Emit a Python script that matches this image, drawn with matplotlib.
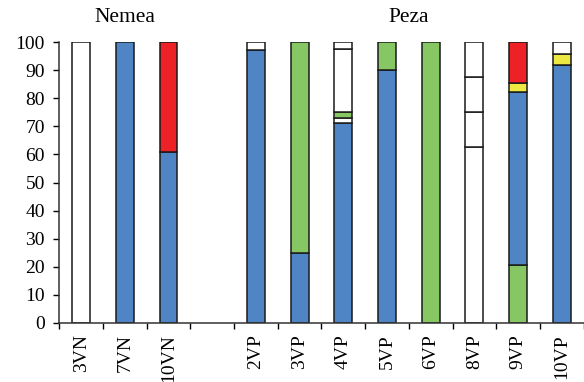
import matplotlib
matplotlib.use("Agg")
import matplotlib.pyplot as plt
import numpy as np

plt.rcParams['font.family'] = ['Liberation Serif', 'DejaVu Serif']
plt.rcParams['font.size'] = 14

# sample names, one slot left empty between the two sites
labels = ['3VN', '7VN', '10VN', '', '2VP', '3VP', '4VP', '5VP', '6VP', '8VP', '9VP', '10VP']

colors = {
    'b': '#4F85C5',
    'g': '#86C663',
    'y': '#EEE842',
    'r': '#EE2226',
    'w': '#FFFFFF',
}

# stacked segments for each sample, bottom to top: (colour key, percent)
stacks = [
    [('w', 100)],
    [('b', 100)],
    [('b', 61), ('r', 39)],
    [],
    [('b', 97), ('w', 3)],
    [('b', 25), ('g', 75)],
    [('b', 71.3), ('w', 1.8), ('g', 2.1), ('w', 22.4), ('w', 2.4)],
    [('b', 90), ('g', 10)],
    [('g', 100)],
    [('w', 62.5), ('w', 12.5), ('w', 12.5), ('w', 12.5)],
    [('g', 20.6), ('b', 61.7), ('y', 3.0), ('r', 14.7)],
    [('b', 91.7), ('y', 4.1), ('w', 4.2)],
]

sites = ['Nemea', 'Peza']
site_centres = [1.5, 8.0]

fig = plt.figure(figsize=(5.84, 3.82), dpi=100)
ax = fig.add_axes([0.1015, 0.1545, 0.898, 0.7355])

x = np.arange(len(labels)) + 0.5
for xi, stack in zip(x, stacks):
    bottom = 0
    for key, h in stack:
        ax.bar(xi, h, bottom=bottom, width=0.41, color=colors[key],
               edgecolor='#1a1a1a', linewidth=1.1)
        bottom += h

ax.set_xlim(0, len(labels))
ax.set_ylim(0, 100)
ax.set_yticks(np.arange(0, 101, 10))

# boundary ticks without labels, names centred under the bars
ax.set_xticks(np.arange(0, len(labels) + 1))
ax.set_xticklabels([])
ax.set_xticks(x, minor=True)
ax.set_xticklabels(labels, minor=True, rotation=90, va='top')
ax.tick_params(axis='x', which='major', length=4, width=1, direction='out')
ax.tick_params(axis='x', which='minor', length=0, pad=8)
ax.tick_params(axis='y', length=4.3, width=1, direction='out', pad=6)

for side in ['top', 'right']:
    ax.spines[side].set_visible(False)
for side in ['left', 'bottom']:
    ax.spines[side].set_linewidth(1.1)
    ax.spines[side].set_color('#333333')

for name, c in zip(sites, site_centres):
    ax.text(c, 105.5, name, ha='center', va='bottom', fontsize=15.5,
            transform=ax.transData, clip_on=False)

fig.savefig('out.png', dpi=100)
